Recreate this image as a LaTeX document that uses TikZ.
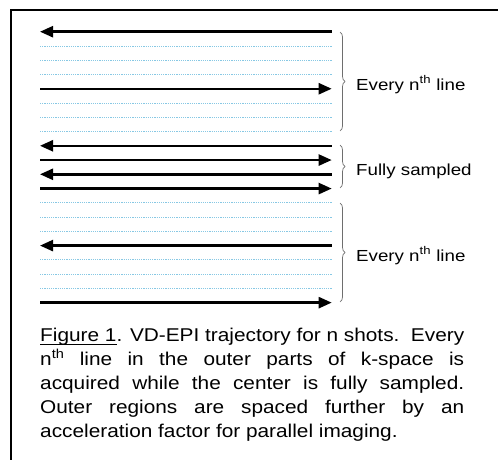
\documentclass[tikz,border=0pt]{standalone}
\usepackage{fontspec}
\setmainfont{Liberation Sans}
\newfontfamily\capfont[FakeStretch=1.125]{Liberation Sans}
\newfontfamily\labfont[FakeStretch=1.17]{Liberation Sans}
\usetikzlibrary{arrows.meta,decorations.pathreplacing}
\definecolor{dotblue}{RGB}{135,200,228}
\definecolor{bracegray}{RGB}{110,110,110}
\newcommand\myul[1]{\setbox0\hbox{#1}\rlap{\rule[-3.8pt]{\wd0}{1.2pt}}\box0}
\tikzset{
  scan/.style={line width=2.4pt, black},
  toleft/.style={scan, {Triangle[length=13pt,width=11pt]}-},
  toright/.style={scan, -{Triangle[length=13pt,width=11pt]}},
  skipped/.style={dotblue, line width=0.9pt, dash pattern=on 1.1pt off 1.1pt},
  grp/.style={bracegray, line width=0.7pt, decorate, decoration={brace, amplitude=5pt}},
  lab/.style={anchor=base west, inner sep=0pt, font=\labfont\fontsize{16}{19}\selectfont},
  capline/.style={anchor=base west, inner sep=0pt, font=\capfont\fontsize{18.5}{22}\selectfont},
  frame/.style={line width=1.8pt, black}
}
\begin{document}
\begin{tikzpicture}[x=1pt,y=-1pt]
\useasboundingbox (0,0) rectangle (498,460);
\fill[white] (0,0) rectangle (498,460);
% frame
\coordinate (F1) at (11,460);
\coordinate (F2) at (11,10);
\coordinate (F3) at (498,10);
\draw[frame] (F1) -- (F2) -- (F3);
% line end points
\foreach \k in {0,...,19}{
  \coordinate (L\k) at (40,{31.7+14.26*\k});
  \coordinate (R\k) at (331.7,{31.7+14.26*\k});
}
% skipped (dotted) lines
\foreach \k in {1,2,3,5,6,7,12,13,14,16,17,18}{
  \draw[skipped] (L\k) -- (R\k);
}
% acquired lines
\foreach \k in {0,8,10,15}{
  \draw[toleft] (L\k) -- (R\k);
}
\foreach \k in {4,9,11,19}{
  \draw[toright] (L\k) -- (R\k);
}
% braces
\coordinate (B1t) at (340,32);  \coordinate (B1b) at (340,131);
\coordinate (B2t) at (340,145); \coordinate (B2b) at (340,188);
\coordinate (B3t) at (340,203); \coordinate (B3b) at (340,302);
\draw[grp] (B1t) -- (B1b);
\draw[grp] (B2t) -- (B2b);
\draw[grp] (B3t) -- (B3b);
% labels
\node[lab] (lab1) at (356,90) {Every n\textsuperscript{th} line};
\node[lab] (lab2) at (356,175) {Fully sampled};
\node[lab] (lab3) at (356,261) {Every n\textsuperscript{th} line};
% caption
\node[capline] (c1) at (40,341) {\makebox[424pt][s]{\myul{Figure 1}. VD-EPI trajectory for n shots.\ \ Every}};
\node[capline] (c2) at (40,365) {\makebox[424pt][s]{n\textsuperscript{th} line in the outer parts of k-space is}};
\node[capline] (c3) at (40,389) {\makebox[424pt][s]{acquired while the center is fully sampled.}};
\node[capline] (c4) at (40,413) {\makebox[424pt][s]{Outer regions are spaced further by an}};
\node[capline] (c5) at (40,437) {acceleration factor for parallel imaging.};
\end{tikzpicture}
\end{document}
